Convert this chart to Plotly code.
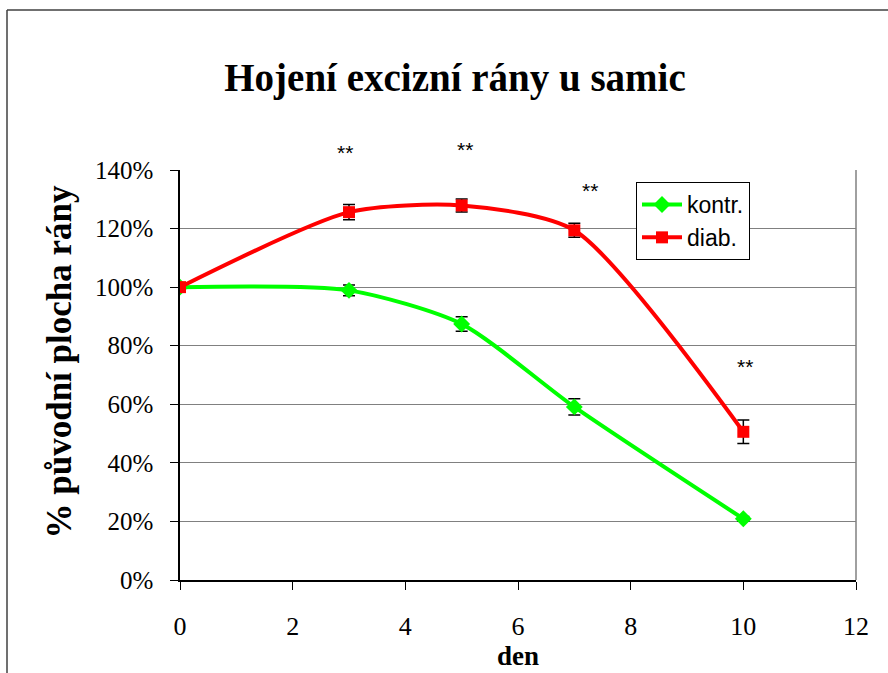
import plotly.graph_objects as go

days = [0, 3, 5, 7, 10]
kontr = [100, 98.9, 87.4, 59.1, 20.9]
kontr_err = [0, 1.8, 2.5, 2.8, 0.8]
diab = [100, 125.6, 127.9, 119.4, 50.6]
diab_err = [0, 2.6, 2.2, 2.4, 4.0]

star_x = [2.93, 5.06, 7.28, 10.03]
star_y = [150.5, 151.5, 137.5, 72.8]
star_text = ["**", "**", "**", "**"]

x_ticks = [0, 2, 4, 6, 8, 10, 12]
y_ticks = [0, 20, 40, 60, 80, 100, 120, 140]
y_labels = [f"{v}%" for v in y_ticks]

serif = "Liberation Serif, Times New Roman, serif"
sans = "Liberation Sans, Arial, sans-serif"

Y_MAX = 140

fig = go.Figure()
fig.add_trace(go.Scatter(
    x=days, y=kontr, name="kontr.", mode="lines+markers",
    line=dict(color="#00FF00", width=4, shape="spline", smoothing=0.7),
    marker=dict(symbol="diamond", size=13, color="#00FF00"),
    error_y=dict(type="data", array=kontr_err, visible=True, color="black", thickness=1.5, width=6),
))
fig.add_trace(go.Scatter(
    x=days, y=diab, name="diab.", mode="lines+markers",
    line=dict(color="#FF0000", width=4, shape="spline", smoothing=0.7),
    marker=dict(symbol="square", size=12, color="#FF0000"),
    error_y=dict(type="data", array=diab_err, visible=True, color="black", thickness=1.5, width=6),
))

for sx, sy, st in zip(star_x, star_y, star_text):
    fig.add_annotation(x=sx, y=sy / Y_MAX, xref="x", yref="paper", text=st, showarrow=False,
                       font=dict(family=sans, size=21, color="black"))

fig.add_annotation(x=-143/676, y=(580 - 362) / 410, xref="paper", yref="paper",
                   text="<b>% původní plocha rány</b>", textangle=-90, showarrow=False,
                   font=dict(family=serif, size=35, color="black"))

fig.add_shape(type="line", xref="paper", yref="paper", x0=1, x1=1, y0=0, y1=1,
              line=dict(color="#808080", width=1.5))
# outer chart frame (left and top edges)
fig.add_shape(type="line", xref="paper", yref="paper", x0=-173/676, x1=-173/676, y0=-0.3, y1=570/410,
              line=dict(color="#404040", width=1.5))
fig.add_shape(type="line", xref="paper", yref="paper", x0=-173/676, x1=1.2, y0=570/410, y1=570/410,
              line=dict(color="#404040", width=1.5))

fig.update_layout(
    width=888, height=673,
    margin=dict(l=180, r=32, t=170, b=93),
    paper_bgcolor="white", plot_bgcolor="white",
    title=dict(text="<b>Hojení excizní rány u samic</b>", x=455/888, xanchor="center",
               y=1 - 77/673, yanchor="middle",
               font=dict(family=serif, size=39, color="black")),
    showlegend=True,
    legend=dict(x=(636 - 180) / 676, y=(580 - 182) / 410, xanchor="left", yanchor="top",
                bgcolor="white", bordercolor="black", borderwidth=1,
                font=dict(family=sans, size=23, color="black"),
                itemwidth=40, tracegroupgap=4),
    xaxis=dict(range=[0, 12], tickvals=x_ticks, showgrid=False, zeroline=False,
               showline=True, linecolor="black", linewidth=1.5, automargin=False,
               ticks="outside", ticklen=8, tickcolor="black",
               tickfont=dict(family=serif, size=26, color="black"),
               ticklabelstandoff=14,
               title=dict(text="<b>den</b>", font=dict(family=serif, size=27, color="black"), standoff=4)),
    yaxis=dict(range=[0, Y_MAX], tickvals=y_ticks, ticktext=y_labels, showgrid=True,
               gridcolor="#808080", gridwidth=1.2, zeroline=False,
               showline=True, linecolor="black", linewidth=1.5, automargin=False,
               ticks="outside", ticklen=8, tickcolor="black",
               tickfont=dict(family=serif, size=25, color="black"),
               ticklabelstandoff=12),
)

fig.write_html("out.html")
